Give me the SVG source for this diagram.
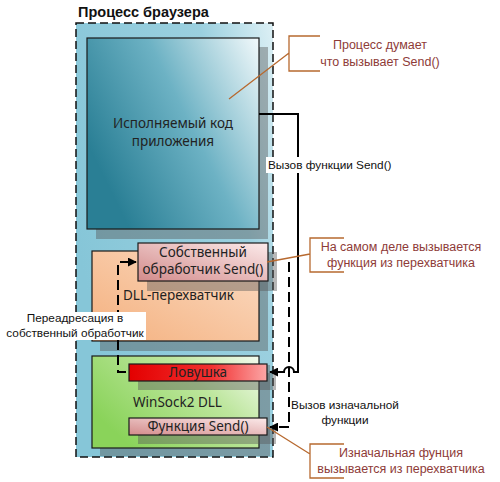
<svg xmlns="http://www.w3.org/2000/svg" width="500" height="482" viewBox="0 0 500 482">
<defs>
<linearGradient id="gCont" x1="0" y1="0.5" x2="1" y2="0"><stop offset="0" stop-color="#86C6D8"/><stop offset="0.7" stop-color="#9BD0DF"/><stop offset="1" stop-color="#DDF0F5"/></linearGradient>
<linearGradient id="gMain" x1="0" y1="0.55" x2="1" y2="0"><stop offset="0" stop-color="#2A7F95"/><stop offset="0.5" stop-color="#6DB2C4"/><stop offset="1" stop-color="#F2F9FB"/></linearGradient>
<linearGradient id="gOrange" x1="0" y1="1" x2="1" y2="0"><stop offset="0" stop-color="#F4B07E"/><stop offset="1" stop-color="#FBDCC4"/></linearGradient>
<linearGradient id="gGreen" x1="0" y1="0.6" x2="1" y2="0"><stop offset="0" stop-color="#8AD35A"/><stop offset="0.6" stop-color="#BDE69D"/><stop offset="1" stop-color="#F4FBEF"/></linearGradient>
<linearGradient id="gPink" x1="0" y1="1" x2="1" y2="0"><stop offset="0" stop-color="#D38B8B"/><stop offset="1" stop-color="#FBEAEA"/></linearGradient>
<linearGradient id="gRed" x1="0" y1="0" x2="1" y2="0"><stop offset="0" stop-color="#E30000"/><stop offset="0.6" stop-color="#F23030"/><stop offset="1" stop-color="#FBA6A6"/></linearGradient>
<marker id="arr" viewBox="0 0 10 10" refX="9" refY="5" markerWidth="4.5" markerHeight="4.5" orient="auto"><path d="M0,0 L10,5 L0,10 z" fill="#000"/></marker>
</defs>
<style>
.box{stroke:#1a1a1a;stroke-width:1.2}
.sh{fill:#555;opacity:0.42}
.bt{font-family:"Noto Sans","Open Sans",sans-serif;font-size:13.5px;fill:#222;text-anchor:middle}
.bl{font-family:"Noto Sans","Open Sans",sans-serif;font-size:13.5px;fill:#222;text-anchor:start}
.lb{font-family:"Liberation Sans",Arial,sans-serif;font-size:11.8px;fill:#111}
.ct{font-family:"Liberation Sans",Arial,sans-serif;font-size:12.5px;fill:#8E3B38;text-anchor:middle}
.co{fill:none;stroke:#B7692F;stroke-width:1.3}
.cn{fill:none;stroke:#000;stroke-width:2}
.dash{stroke-dasharray:10,5}
</style>
<text x="78" y="17" font-family="Liberation Sans,Arial,sans-serif" font-size="14.5" font-weight="bold" fill="#111">Процесс браузера</text>
<g id="container">
<rect x="76" y="23" width="197" height="434" fill="url(#gCont)" stroke="#111" stroke-width="1.5" stroke-dasharray="8,4"/>
</g>
<g id="app">
<rect class="sh" x="96" y="47" width="172" height="192"/>
<rect class="box" x="87" y="38" width="172" height="191" fill="url(#gMain)"/>
<text class="bt" x="173" y="128">Исполняемый код</text>
<text class="bt" x="173" y="146">приложения</text>
</g>
<g id="hookdll">
<rect class="sh" x="100" y="260" width="168" height="91"/>
<rect class="box" x="92" y="251" width="167" height="90" fill="url(#gOrange)"/>
<text class="bl" x="123" y="300">DLL-перехватчик</text>
</g>
<g id="handler">
<rect class="sh" x="147" y="252" width="130" height="39"/>
<rect class="box" x="138" y="243" width="130" height="38" fill="url(#gPink)"/>
<text class="bt" x="203" y="257">Собственный</text>
<text class="bt" x="203" y="274">обработчик Send()</text>
</g>
<g id="winsock">
<rect class="sh" x="100" y="365" width="170" height="91"/>
<rect class="box" x="92" y="356" width="167" height="92" fill="url(#gGreen)"/>
<text class="bl" x="133" y="407">WinSock2 DLL</text>
</g>
<g id="trap">
<rect class="sh" x="138" y="373" width="138" height="17"/>
<rect class="box" x="129" y="364" width="138" height="17" fill="url(#gRed)"/>
<text class="bt" x="198" y="377">Ловушка</text>
</g>
<g id="sendfn">
<rect class="sh" x="138" y="427" width="138" height="17"/>
<rect class="box" x="129" y="418" width="138" height="17" fill="url(#gPink)"/>
<text class="bt" x="198" y="431">Функция Send()</text>
</g>
<g id="connectors">
<path class="cn" d="M259,114 H298 V372 H294 A5,5 0 0 0 284,372 H270" marker-end="url(#arr)"/>
<path class="cn dash" d="M289,262 V427 H270" marker-end="url(#arr)"/>
<path class="cn dash" d="M126,372 H118 V262 H136" marker-end="url(#arr)"/>
<rect x="266" y="157" width="129" height="16" fill="#fff"/>
<text class="lb" x="268" y="169">Вызов функции Send()</text>
<rect x="291" y="398" width="110" height="30" fill="#fff"/>
<text class="lb" x="345" y="409" text-anchor="middle">Вызов изначальной</text>
<text class="lb" x="345" y="424" text-anchor="middle">функции</text>
<rect x="0" y="312" width="146" height="28" fill="#fff"/>
<text class="lb" x="75" y="322" text-anchor="middle">Переадресация в</text>
<text class="lb" x="75" y="337" text-anchor="middle">собственный обработчик</text>
</g>
<g id="callout1">
<path class="co" d="M320,36 H289 V71 H320 M289,53 L229,99"/>
<text class="ct" x="380" y="49">Процесс думает</text>
<text class="ct" x="380" y="66">что вызывает Send()</text>
</g>
<g id="callout2">
<path class="co" d="M344,238 H310 V272 H344 M310,254 L267,262"/>
<text class="ct" x="401" y="251">На самом деле вызывается</text>
<text class="ct" x="401" y="267">функция из перехватчика</text>
</g>
<g id="callout3">
<path class="co" d="M344,444 H310 V478 H344 M310,454 L267,427"/>
<text class="ct" x="401" y="457">Изначальная фунция</text>
<text class="ct" x="401" y="473">вызывается из перехватчика</text>
</g>
</svg>
